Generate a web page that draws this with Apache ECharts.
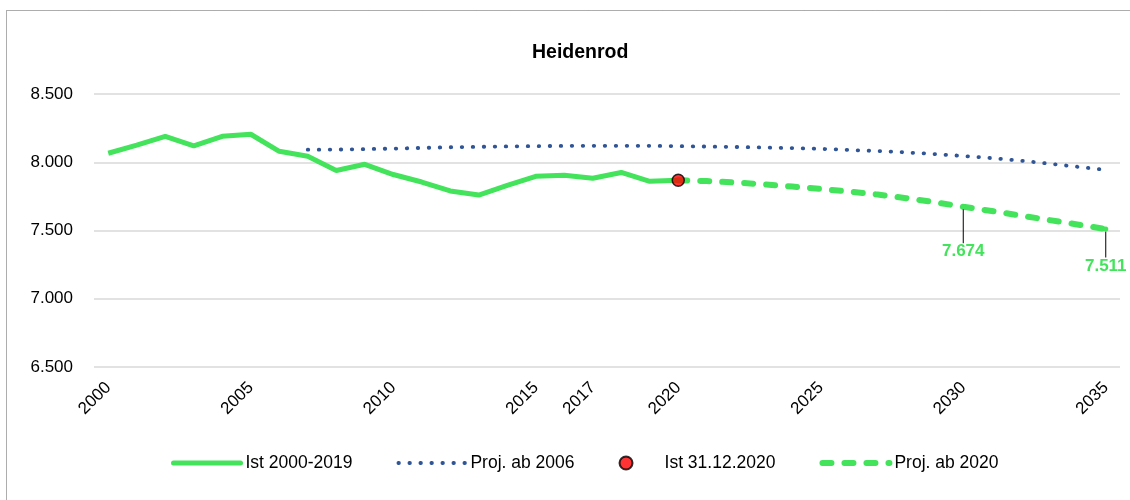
<!DOCTYPE html>
<html>
<head>
<meta charset="utf-8">
<title>Heidenrod</title>
<script src="https://cdn.jsdelivr.net/npm/echarts@6/dist/echarts.min.js"></script>
<style>
  html, body { margin: 0; padding: 0; background: #fff; }
  #chart { width: 1130px; height: 500px; }
</style>
</head>
<body>
<div id="chart"></div>
<script>
// x categories and which of them get a label
const years = ['2000', '2001', '2002', '2003', '2004', '2005', '2006', '2007', '2008', '2009',
  '2010', '2011', '2012', '2013', '2014', '2015', '2016', '2017', '2018', '2019',
  '2020', '2021', '2022', '2023', '2024', '2025', '2026', '2027', '2028', '2029',
  '2030', '2031', '2032', '2033', '2034', '2035']
const shownYears = ['2000', '2005', '2010', '2015', '2017', '2020', '2025', '2030', '2035']

// Ist 2000-2019 (the line runs on into the 2020 point)
const istYears = years.slice(0, 21)
const istValues = [8066, 8125, 8190, 8120, 8190, 8205, 8080, 8044, 7940, 7985,
  7910, 7855, 7790, 7760, 7830, 7897, 7905, 7883, 7925, 7860, 7868]

// Proj. ab 2006 (drawn from 2007 on)
const proj2006Years = years.slice(7)
const proj2006Values = [8092, 8093, 8096, 8100, 8105, 8110, 8113, 8116, 8118, 8120,
  8120, 8120, 8120, 8118, 8115, 8112, 8108, 8104, 8098, 8090,
  8082, 8072, 8060, 8046, 8030, 8012, 7990, 7967, 7944]

// Ist 31.12.2020
const ist2020Year = ['2020']
const ist2020Value = [7868]

// Proj. ab 2020
const proj2020Years = years.slice(20)
const proj2020Values = [7868, 7862, 7852, 7838, 7822, 7805, 7785, 7763, 7737, 7707,
  7674, 7643, 7610, 7577, 7544, 7511]
const labelledYears = ['2030', '2035']

const GREEN = '#43e35b'
const BLUE = '#2f5597'
const FONT = "'Liberation Sans', Arial, sans-serif"

const fmt = (v) => (v / 1000).toFixed(3)

const chart = echarts.init(document.getElementById('chart'), null, { renderer: 'canvas' })

chart.setOption({
  animation: false,
  backgroundColor: '#fff',
  graphic: [
    {
      type: 'rect',
      shape: { x: 6.5, y: 10.5, width: 1200, height: 600 },
      style: { fill: 'none', stroke: '#5a5a5a', lineWidth: 1, lineDash: [1, 1] },
      silent: true
    }
  ],
  title: {
    text: 'Heidenrod',
    left: 527,
    top: 38,
    textStyle: { fontFamily: FONT, fontSize: 19.5, fontWeight: 'bold', color: '#000' }
  },
  grid: { left: 94, right: 10, top: 94, bottom: 133 },
  xAxis: {
    type: 'category',
    data: years,
    boundaryGap: true,
    axisLine: { show: false },
    axisTick: { show: false },
    axisLabel: {
      interval: (i, v) => shownYears.includes(v),
      rotate: 45,
      margin: 18,
      color: '#000',
      fontFamily: FONT,
      fontSize: 17
    }
  },
  yAxis: {
    type: 'value',
    min: 6500,
    max: 8500,
    interval: 500,
    axisLine: { show: false },
    axisTick: { show: false },
    splitLine: { lineStyle: { color: '#d9d9d9', width: 1.5 } },
    axisLabel: { formatter: fmt, color: '#000', fontFamily: FONT, fontSize: 17, margin: 21 }
  },
  legend: {
    left: 171,
    top: 454,
    padding: 0,
    itemWidth: 67,
    itemHeight: 13,
    itemGap: 44,
    textStyle: { fontFamily: FONT, fontSize: 17.5, color: '#000' },
    data: [
      { name: 'Ist 2000-2019', itemStyle: { opacity: 0 }, lineStyle: { width: 5, cap: 'round' } },
      { name: 'Proj. ab 2006', itemStyle: { opacity: 0 }, lineStyle: { width: 3.8, cap: 'round' } },
      { name: 'Ist 31.12.2020' },
      { name: 'Proj. ab 2020', itemStyle: { opacity: 0 }, lineStyle: { width: 6, cap: 'round' } }
    ]
  },
  series: [
    {
      name: 'Ist 2000-2019',
      type: 'line',
      data: istYears.map((y, i) => [y, istValues[i]]),
      symbol: 'none',
      lineStyle: { color: GREEN, width: 5 },
      itemStyle: { color: GREEN },
      z: 3
    },
    {
      name: 'Proj. ab 2006',
      type: 'line',
      data: proj2006Years.map((y, i) => [y, proj2006Values[i]]),
      symbol: 'none',
      lineStyle: { color: BLUE, width: 3.8, type: [0.5, 10.5], cap: 'round' },
      itemStyle: { color: BLUE },
      z: 2
    },
    {
      name: 'Proj. ab 2020',
      type: 'line',
      showSymbol: true,
      symbol: 'none',
      data: proj2020Years.map((y, i) => {
        if (!labelledYears.includes(y)) return [y, proj2020Values[i]]
        return {
          value: [y, proj2020Values[i]],
          symbol: 'circle',
          symbolSize: 5,
          label: { show: true }
        }
      }),
      label: {
        show: false,
        position: 'bottom',
        distance: 4,
        formatter: (p) => fmt(p.value[1]),
        color: GREEN,
        fontFamily: FONT,
        fontSize: 17,
        fontWeight: 'bold'
      },
      labelLine: { show: true, lineStyle: { color: '#000', width: 1 } },
      labelLayout: (p) => ({ dy: p.dataIndex === 10 ? 30 : 22 }),
      lineStyle: { color: GREEN, width: 6, type: [9, 13], cap: 'round' },
      itemStyle: { color: GREEN },
      z: 3
    },
    {
      name: 'Ist 31.12.2020',
      type: 'scatter',
      data: ist2020Year.map((y, i) => [y, ist2020Value[i]]),
      symbol: 'circle',
      symbolSize: 12,
      itemStyle: { color: '#ff0000', borderColor: '#000', borderWidth: 1.5 },
      z: 5
    }
  ]
})
</script>
</body>
</html>
